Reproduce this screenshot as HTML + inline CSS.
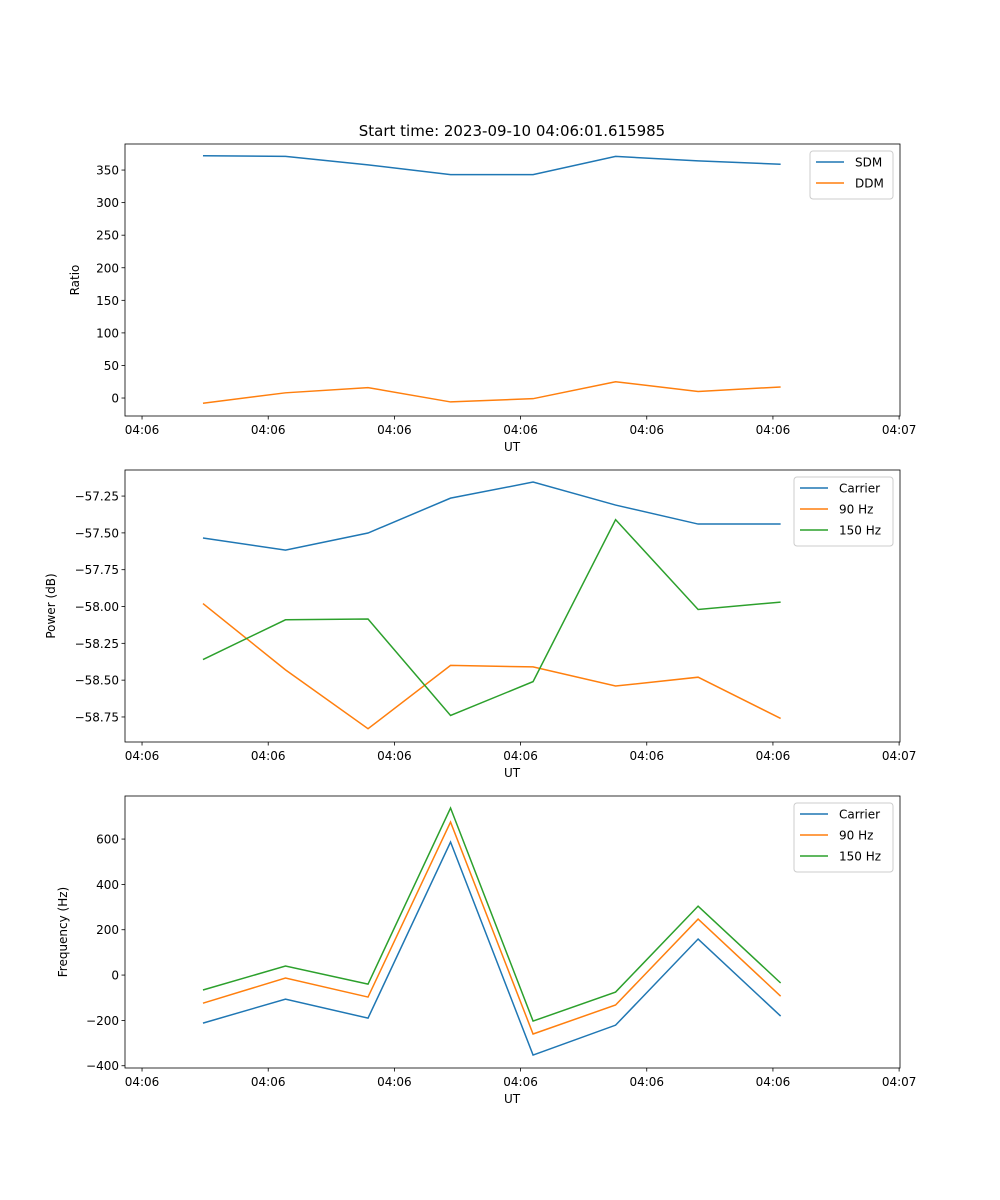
<!DOCTYPE html>
<html><head><meta charset="utf-8"><style>
body{margin:0;background:#fff}
svg{display:block;font-family:"DejaVu Sans","Liberation Sans",sans-serif}
</style></head><body>
<svg id="fig" width="1000" height="1200" viewBox="0 0 1000 1200">
<rect width="1000" height="1200" fill="#fff"/>
<text x="512" y="136" font-size="15" text-anchor="middle">Start time: 2023-09-10 04:06:01.615985</text>
</svg>
<script>
const times = [4.83, 11.37, 17.91, 24.45, 30.99, 37.53, 44.07, 50.61];
const xTicks = [0, 10, 20, 30, 40, 50, 60];
const xTickLabels = ["04:06","04:06","04:06","04:06","04:06","04:06","04:07"];
const sdm = [372, 371, 358, 343, 343, 371, 364, 359];
const ddm = [-8, 8, 16, -6, -1, 25, 10, 17];
const powCarrier = [-57.535, -57.617, -57.501, -57.264, -57.155, -57.311, -57.44, -57.44];
const pow90 = [-57.98, -58.43, -58.83, -58.40, -58.41, -58.54, -58.48, -58.76];
const pow150 = [-58.36, -58.09, -58.085, -58.74, -58.51, -57.41, -58.02, -57.97];
const freqCarrier = [-212, -106, -190, 587, -353, -221, 159, -181];
const freq90 = [-124, -13, -97, 675, -260, -132, 247, -93];
const freq150 = [-66, 40, -40, 737, -203, -75, 304, -35];
const ticks1 = [0, 50, 100, 150, 200, 250, 300, 350];
const ticks2 = [-58.75, -58.5, -58.25, -58.0, -57.75, -57.5, -57.25];
const ticks3 = [-400, -200, 0, 200, 400, 600];

const NS = "http://www.w3.org/2000/svg";
const svg = document.getElementById('fig');
const L = 125, R = 900, X0 = -1.35, X1 = 60.07;
const xs = t => L + (t - X0) / (X1 - X0) * (R - L);
function el(tag, attrs, parent) {
  const e = document.createElementNS(NS, tag);
  for (const k in attrs) e.setAttribute(k, attrs[k]);
  (parent || svg).appendChild(e);
  return e;
}
const C = ['#1f77b4', '#ff7f0e', '#2ca02c'];
function panel(name, top, bot, y0, y1, ticks, fmt, ylabel, series, names, leg) {
  const g = el('g', {});
  
  
  const ys = v => bot - (v - y0) / (y1 - y0) * (bot - top);
  series.forEach((s, i) => {
    const p = el('polyline', {points: s.map((v, j) => xs(times[j]) + ',' + ys(v)).join(' '), fill: 'none', stroke: C[i], 'stroke-width': 1.5}, g);
    
    
  });
  el('rect', {x: L, y: top, width: R - L, height: bot - top, fill: 'none', stroke: '#000', 'stroke-width': 0.8}, g);
  xTicks.forEach((t, i) => {
    const x = xs(t);
    el('line', {x1: x, x2: x, y1: bot, y2: bot + 3.5, stroke: '#000', 'stroke-width': 0.8}, g);
    const tx = el('text', {x: x, y: bot + 18, 'font-size': 12, 'text-anchor': 'middle'}, g);
    tx.textContent = xTickLabels[i];
    
    
  });
  const xl = el('text', {x: 512, y: bot + 35, 'font-size': 12, 'text-anchor': 'middle'}, g);
  xl.textContent = 'UT';
  
  
  ticks.forEach(v => {
    const y = ys(v);
    el('line', {x1: L - 3.5, x2: L, y1: y, y2: y, stroke: '#000', 'stroke-width': 0.8}, g);
    const tx = el('text', {x: L - 6, y: y + 4.5, 'font-size': 12, 'text-anchor': 'end'}, g);
    tx.textContent = fmt(v);
    
    
  });
  const yl = el('text', {x: 0, y: 0, 'font-size': 12, 'text-anchor': 'middle', transform: `translate(${leg.yl},${(top + bot) / 2}) rotate(-90)`}, g);
  yl.textContent = ylabel;
  
  
  const lg = el('g', {}, g);
  
  
  el('rect', {x: leg.x, y: top + 7, width: 893 - leg.x, height: names.length * 21 + 6, rx: 3, fill: '#fff', stroke: '#ccc', 'stroke-width': 1}, lg);
  names.forEach((n, i) => {
    const y = top + 18 + i * 21;
    el('line', {x1: leg.x + 6, x2: leg.x + 34, y1: y, y2: y, stroke: C[i], 'stroke-width': 1.5}, lg);
    const tx = el('text', {x: leg.x + 45, y: y + 4.5, 'font-size': 12}, lg);
    tx.textContent = n;
    
    
  });
}
panel('ratio-panel', 144, 416, -27.6, 390, ticks1, v => String(v), 'Ratio', [sdm, ddm], ['SDM', 'DDM'], {x: 810, yl: 79});
panel('power-panel', 470, 742, -58.92, -57.073, ticks2, v => '\u2212' + Math.abs(v).toFixed(2), 'Power (dB)', [powCarrier, pow90, pow150], ['Carrier', '90 Hz', '150 Hz'], {x: 794, yl: 55});
panel('frequency-panel', 796, 1068, -410, 790, ticks3, v => (v < 0 ? '\u2212' : '') + Math.abs(v), 'Frequency (Hz)', [freqCarrier, freq90, freq150], ['Carrier', '90 Hz', '150 Hz'], {x: 794, yl: 67});
</script>
</body></html>
